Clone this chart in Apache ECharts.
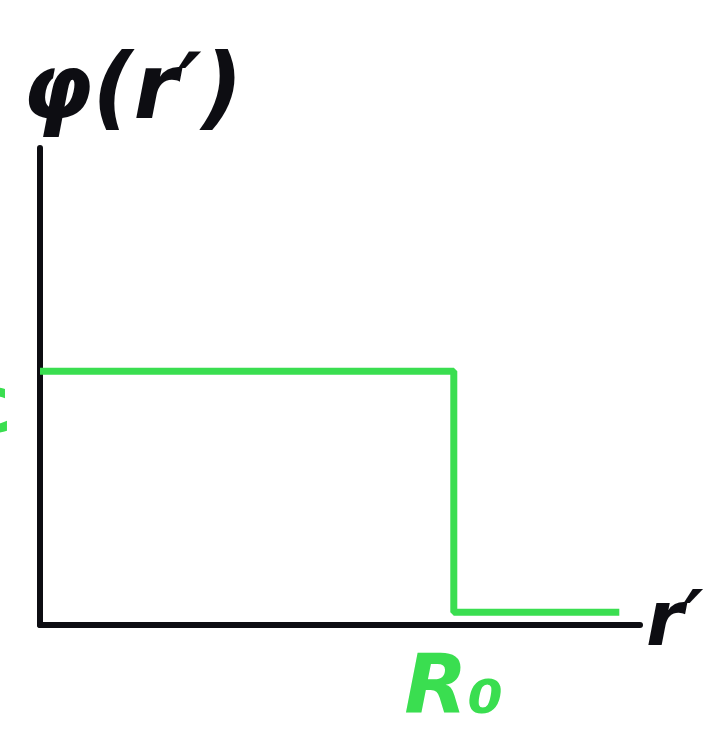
<!DOCTYPE html>
<html>
<head>
<meta charset="utf-8">
<script src="https://cdn.jsdelivr.net/npm/echarts@6/dist/echarts.min.js"></script>
<style>
  html, body { margin: 0; padding: 0; background: #fff; }
  #chart { width: 728px; height: 756px; }
</style>
</head>
<body>
<div id="chart"></div>
<script>
// Step profile of phi(r'): constant inside R0, (near) zero outside
const radius = [0, 1, 1, 1.4];
const phiValues = [1, 1, 0.05, 0.05];
const xTicks = [1];
const xTickLabels = ['R₀'];
const yTicks = [1];
const yTickLabels = ['ε'];

const green = '#3ade50';
const ink = '#0d0d12';

const chart = echarts.init(document.getElementById('chart'));
chart.setOption({
  backgroundColor: '#ffffff',
  animation: false,
  grid: { left: 40, right: 88, top: 148, bottom: 131, outerBoundsMode: 'none', containLabel: false },
  xAxis: {
    type: 'value', min: 0, max: 1.45,
    splitLine: { show: false },
    axisLine: { lineStyle: { color: ink, width: 6 } },
    axisTick: { show: false },
    axisLabel: {
      customValues: xTicks,
      formatter: (v) => xTickLabels[xTicks.indexOf(v)] || '',
      color: green, fontSize: 82, fontStyle: 'italic', fontWeight: 'bold',
      fontFamily: 'DejaVu Sans', margin: 26
    },
    name: 'r′', nameLocation: 'end', nameGap: 6,
    nameTextStyle: { color: ink, fontSize: 76, fontWeight: 'bold', fontStyle: 'italic',
      fontFamily: 'DejaVu Sans', verticalAlign: 'middle', padding: [0, 0, 0, 0] }
  },
  yAxis: {
    type: 'value', min: 0, max: 1.88,
    splitLine: { show: false },
    axisLine: { lineStyle: { color: ink, width: 6 } },
    axisTick: { show: false },
    axisLabel: {
      customValues: yTicks,
      formatter: (v) => yTickLabels[yTicks.indexOf(v)] || '',
      color: green, fontSize: 80, fontWeight: 'bold', fontFamily: 'DejaVu Sans',
      margin: 28, verticalAlign: 'top'
    },
    name: 'φ(r′)', nameLocation: 'end', nameGap: 8,
    nameTextStyle: { color: ink, fontSize: 90, fontWeight: 'bold', fontStyle: 'italic',
      fontFamily: 'DejaVu Sans', align: 'left', padding: [0, 0, 0, -18] }
  },
  series: [{
    type: 'line',
    data: radius.map((r, i) => [r, phiValues[i]]),
    symbol: 'none',
    lineStyle: { color: green, width: 7 }
  }]
});
</script>
</body>
</html>
